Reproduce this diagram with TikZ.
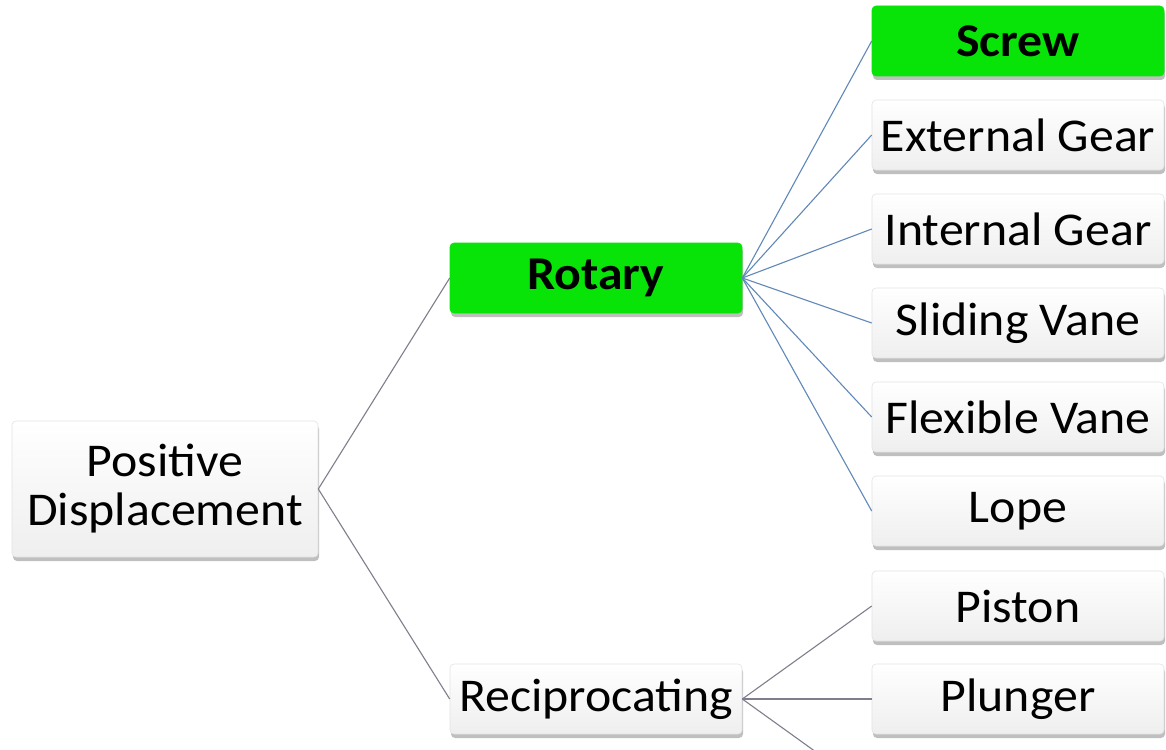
\documentclass[tikz,border=0pt]{standalone}
\usepackage{fontspec}
\setmainfont{Carlito}[FakeStretch=1.06]
\usetikzlibrary{shadows}
\definecolor{boxgreen}{RGB}{8,228,8}
\definecolor{linkblue}{RGB}{96,136,184}
\definecolor{linkgray}{RGB}{128,126,140}
\tikzset{
  box/.style={rectangle, rounded corners=4pt, draw=gray!22, line width=0.6pt,
    top color=white, bottom color=gray!13, minimum width=292pt, minimum height=70pt,
    inner sep=0pt, align=center, font=\fontsize{47}{52}\selectfont,
    drop shadow={shadow xshift=1pt, shadow yshift=-4pt, fill=black, opacity=0.25}},
  hot/.style={box, top color=boxgreen, bottom color=boxgreen, draw=boxgreen,
    font=\fontsize{47}{52}\selectfont\bfseries},
  bluelink/.style={draw=linkblue, line width=1.1pt},
  graylink/.style={draw=linkgray, line width=1.1pt}
}
\begin{document}
\begin{tikzpicture}[x=1pt, y=-1pt]
  \useasboundingbox (0,0) rectangle (1166,749);
  \clip (0,0) rectangle (1166,749);
  \fill[white] (0,0) rectangle (1166,749);

  % root and the two families
  \node[box, minimum width=306pt, minimum height=136pt] (pd) at (165,489) {Positive\\[-3pt]Displacement};
  \node[hot] (rot) at (596,278) {Rotary};
  \node[box] (rec) at (596,699) {Reciprocating};

  % rotary types
  \node[hot]  (screw) at (1018,41)  {Screw};
  \node[box]  (ext)   at (1018,135) {External Gear};
  \node[box]  (int)   at (1018,229) {Internal Gear};
  \node[box]  (slide) at (1018,323) {Sliding Vane};
  \node[box]  (flex)  at (1018,417) {Flexible Vane};
  \node[box]  (lope)  at (1018,511) {Lope};

  % reciprocating types
  \node[box]  (piston)  at (1018,606) {Piston};
  \node[box]  (plunger) at (1018,699) {Plunger};
  \coordinate (third) at (873,793);

  % connectors
  \draw[graylink] (pd.east) -- (rot.west);
  \draw[graylink] (pd.east) -- (rec.west);
  \foreach \c in {screw,ext,int,slide,flex,lope}
    \draw[bluelink] (rot.east) -- (\c.west);
  \draw[graylink] (rec.east) -- (piston.west);
  \draw[graylink] (rec.east) -- (plunger.west);
  \draw[graylink] (rec.east) -- (third);
\end{tikzpicture}
\end{document}
